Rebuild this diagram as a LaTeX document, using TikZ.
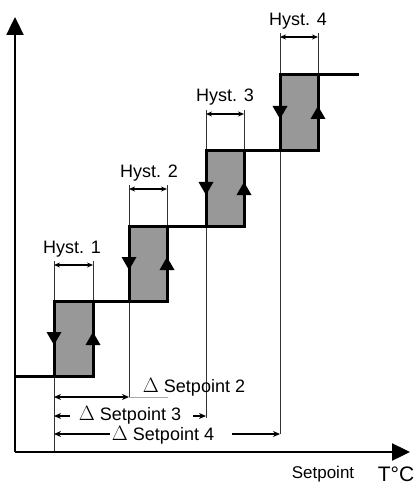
\documentclass[tikz,border=0pt]{standalone}
\usepackage{fontspec}
\setmainfont{Liberation Sans}
\usetikzlibrary{arrows.meta}
\definecolor{boxgray}{RGB}{152,152,152}
\definecolor{linegray}{RGB}{170,170,170}
\tikzset{
  axisline/.style={line width=2.4pt,-{Triangle[width=17pt,length=18pt]}},
  stepline/.style={line width=3pt,line cap=rect,line join=miter},
  thinline/.style={line width=0.8pt,black!80},
  hystdim/.style={line width=1.3pt,{Stealth[width=5pt,length=6pt]}-{Stealth[width=5pt,length=6pt]}},
  dimline/.style={line width=1.4pt,{Stealth[width=6pt,length=7pt]}-{Stealth[width=6pt,length=7pt]}},
  halfdim/.style={line width=1.4pt,-{Stealth[width=6pt,length=7pt]}},
  lbl/.style={font=\fontsize{18}{20}\selectfont,inner sep=0pt},
  slbl/.style={font=\fontsize{17}{19}\selectfont,inner sep=0pt},
  blbl/.style={font=\fontsize{21}{23}\selectfont,inner sep=0pt},
}
\newcommand{\bigdelta}{{\fontsize{20}{20}\selectfont$\Delta$}}
\begin{document}
\begin{tikzpicture}[x=1pt,y=-1pt]
\useasboundingbox (0,0) rectangle (416,486);
% coordinates
\coordinate (o) at (15,452);
\coordinate (ytip) at (15,17);
\coordinate (xtip) at (410,452);
% boxes
\coordinate (b1a) at (54,301); \coordinate (b1b) at (93,376);
\coordinate (b2a) at (129,226); \coordinate (b2b) at (167,301);
\coordinate (b3a) at (206,151); \coordinate (b3b) at (244,226);
\coordinate (b4a) at (280,75);  \coordinate (b4b) at (318,151);
\fill[boxgray] (b1a) rectangle (b1b);
\fill[boxgray] (b2a) rectangle (b2b);
\fill[boxgray] (b3a) rectangle (b3b);
\fill[boxgray] (b4a) rectangle (b4b);
% thin extension lines
\draw[thinline] (54,376) -- (54,452);
\draw[thinline] (129,301) -- (129,397);
\draw[thinline] (206,226) -- (206,418);
\draw[thinline] (280,151) -- (280,434);
\draw[line width=0.8pt,linegray] (129,397) -- (168,397);
% hyst extension lines
\draw[thinline] (54,301) -- (54,261);  \draw[thinline] (93,301) -- (93,261);
\draw[thinline] (129,226) -- (129,185); \draw[thinline] (167,226) -- (167,185);
\draw[thinline] (206,151) -- (206,110); \draw[thinline] (244,151) -- (244,110);
\draw[thinline] (280,75) -- (280,33);  \draw[thinline] (318,75) -- (318,33);
% hyst dims
\coordinate (h1l) at (54,265); \coordinate (h1r) at (93,265);
\coordinate (h2l) at (129,189); \coordinate (h2r) at (167,189);
\coordinate (h3l) at (206,114); \coordinate (h3r) at (244,114);
\coordinate (h4l) at (280,37); \coordinate (h4r) at (318,37);
\draw[hystdim] (h1l) -- (h1r);
\draw[hystdim] (h2l) -- (h2r);
\draw[hystdim] (h3l) -- (h3r);
\draw[hystdim] (h4l) -- (h4r);
\node[lbl] (hy1) at (72,249) {Hyst. 1};
\node[lbl] (hy2) at (149,173) {Hyst. 2};
\node[lbl] (hy3) at (225,97) {Hyst. 3};
\node[lbl] (hy4) at (298,21) {Hyst. 4};
% boxes outlines
\draw[stepline] (b1a) rectangle (b1b);
\draw[stepline] (b2a) rectangle (b2b);
\draw[stepline] (b3a) rectangle (b3b);
\draw[stepline] (b4a) rectangle (b4b);
% step path
\draw[stepline] (15,376) -- (93,376) -- (93,301) -- (167,301) -- (167,226) -- (244,226) -- (244,151) -- (318,151) -- (318,75) -- (357,75);
% direction arrows
\foreach \l/\r/\yt in {54/93/301,129/167/226,206/244/151,280/318/75}{
  \fill (\l-7.5,\yt+31) -- (\l+7.5,\yt+31) -- (\l,\yt+44) -- cycle;
  \fill (\r-7.5,\yt+44) -- (\r+7.5,\yt+44) -- (\r,\yt+31) -- cycle;
}
% axes
\draw[axisline] (o) -- (ytip);
\draw[axisline] (o) -- (xtip);
% setpoint dims
\coordinate (s2l) at (54,397); \coordinate (s2r) at (129,397);
\draw[dimline] (s2l) -- (s2r);
\node[lbl] (sp2) at (194,387) {\bigdelta\ Setpoint 2};
\node[lbl] (sp3) at (130,415) {\bigdelta\ Setpoint 3};
\node[lbl] (sp4) at (163,435) {\bigdelta\ Setpoint 4};
\coordinate (s3l) at (54,416); \coordinate (s3r) at (206,416);
\coordinate (s4l) at (54,434); \coordinate (s4r) at (280,434);
\draw[halfdim] (70,416) -- (s3l);
\draw[halfdim] (193,416) -- (s3r);
\draw[halfdim] (110,434) -- (s4l);
\draw[halfdim] (232,434) -- (s4r);
% axis labels
\node[slbl] (xl) at (323,474) {Setpoint};
\node[blbl] (tc) at (396,474) {T°C};
\end{tikzpicture}
\end{document}
